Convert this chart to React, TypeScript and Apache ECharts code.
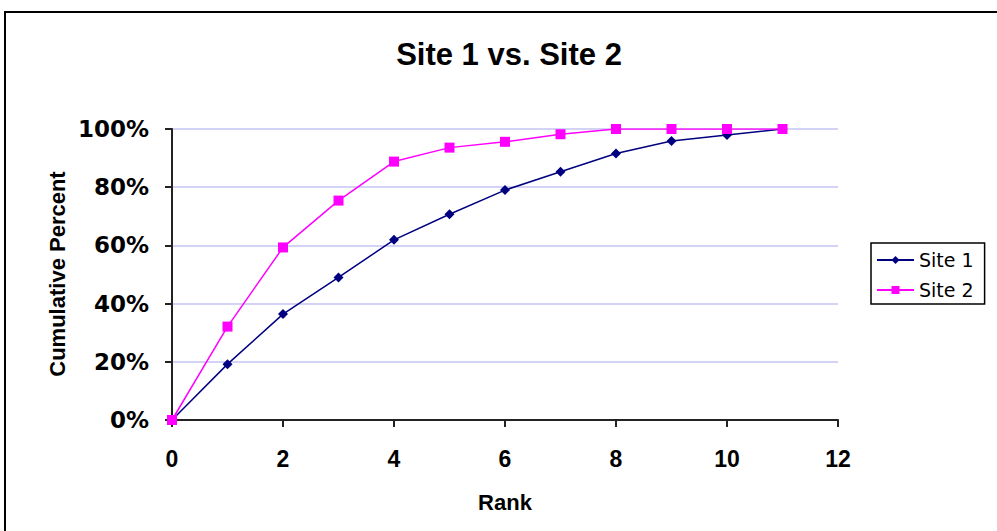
import React, { useEffect, useRef } from "react";
import * as echarts from "echarts";

// Rank positions along the x axis
const ranks = [0, 1, 2, 3, 4, 5, 6, 7, 8, 9, 10, 11];
// Cumulative percent for each rank
const site1 = [0, 19.2, 36.4, 49.0, 61.9, 70.7, 79.0, 85.3, 91.6, 95.9, 97.9, 100];
const site2 = [0, 32.1, 59.3, 75.4, 88.8, 93.6, 95.6, 98.2, 100, 100, 100, 100];
const seriesNames = ["Site 1", "Site 2"];
const chartTitle = "Site 1 vs. Site 2";
const xTitle = "Rank";
const yTitle = "Cumulative Percent";

const pair = (ys: number[]) => ranks.map((r, i) => [r, ys[i]]);

export default function App() {
  const ref = useRef<HTMLDivElement>(null);

  useEffect(() => {
    if (!ref.current) return;
    const chart = echarts.init(ref.current, null, { renderer: "svg" });
    const axisColor = "#222222";
    chart.setOption({
      animation: false,
      backgroundColor: "#ffffff",
      grid: { left: 172, top: 129, right: 159, bottom: 111 },
      xAxis: {
        type: "value",
        min: 0,
        max: 12,
        interval: 2,
        axisLine: { show: true, onZero: false, lineStyle: { color: axisColor, width: 2 } },
        axisTick: { show: true, inside: false, length: 7, lineStyle: { color: axisColor, width: 2 } },
        splitLine: { show: false },
        axisLabel: {
          color: "#000",
          fontFamily: "Liberation Sans",
          fontWeight: "bold",
          fontSize: 23,
          margin: 27,
        },
      },
      yAxis: {
        type: "value",
        min: 0,
        max: 100,
        interval: 20,
        axisLine: { show: true, lineStyle: { color: axisColor, width: 2 } },
        axisTick: { show: true, inside: false, length: 7, lineStyle: { color: axisColor, width: 2 } },
        splitLine: { show: true, lineStyle: { color: "#c4c4f4", width: 1.5 } },
        axisLabel: {
          formatter: "{value}%",
          color: "#000",
          fontFamily: "DejaVu Sans",
          fontWeight: "bold",
          fontSize: 23,
          margin: 23,
        },
      },
      legend: {
        orient: "vertical",
        left: 871,
        top: 243,
        data: seriesNames,
        itemWidth: 37,
        itemHeight: 10,
        itemGap: 10,
        padding: [7, 11, 4, 5],
        borderColor: "#000",
        borderWidth: 1.5,
        textStyle: {
          color: "#000",
          fontFamily: "DejaVu Sans",
          fontSize: 19,
          lineHeight: 20,
        },
      },
      graphic: [
        {
          type: "rect",
          shape: { x: 5, y: 12, width: 1010, height: 540 },
          style: { fill: "none", stroke: "#000", lineWidth: 2 },
          silent: true,
        },
        {
          type: "text",
          x: 509,
          y: 54,
          style: {
            text: chartTitle,
            fill: "#000",
            font: "bold 31px 'Liberation Sans'",
            textAlign: "center",
            textVerticalAlign: "middle",
          },
        },
        {
          type: "text",
          x: 57,
          y: 274,
          rotation: Math.PI / 2,
          style: {
            text: yTitle,
            fill: "#000",
            font: "bold 22px 'Liberation Sans'",
            textAlign: "center",
            textVerticalAlign: "middle",
          },
        },
        {
          type: "text",
          x: 505,
          y: 502,
          style: {
            text: xTitle,
            fill: "#000",
            font: "bold 22px 'Liberation Sans'",
            textAlign: "center",
            textVerticalAlign: "middle",
          },
        },
      ],
      series: [
        {
          name: seriesNames[0],
          type: "line",
          data: pair(site1),
          symbol: "diamond",
          symbolSize: 10,
          color: "#000080",
          lineStyle: { color: "#000080", width: 1.5 },
          itemStyle: { color: "#000080" },
        },
        {
          name: seriesNames[1],
          type: "line",
          data: pair(site2),
          symbol: "rect",
          symbolSize: 10,
          color: "#ff00ff",
          lineStyle: { color: "#ff00ff", width: 1.5 },
          itemStyle: { color: "#ff00ff" },
        },
      ],
    });
    return () => chart.dispose();
  }, []);

  return (
    <div
      ref={ref}
      style={{ position: "fixed", left: 0, top: 0, width: 997, height: 531 }}
    />
  );
}
